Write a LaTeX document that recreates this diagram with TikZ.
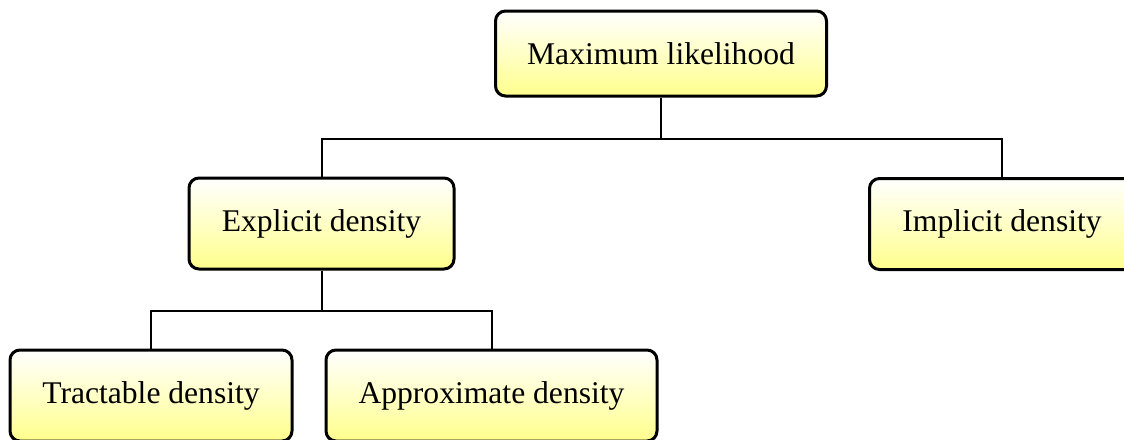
\documentclass[tikz,border=0pt]{standalone}
\usepackage{fontspec}
\setmainfont{Liberation Serif}
\begin{document}
\begin{tikzpicture}[x=1pt,y=-1pt,
  box/.style={draw=black, line width=3pt, rounded corners=10pt,
    top color=white, bottom color={rgb,255:red,255;green,255;blue,140},
    shading angle=0, inner sep=0pt, font=\fontsize{31.6}{38}\selectfont},
  conn/.style={draw=black, line width=2pt}]
\useasboundingbox (0,0) rectangle (1124,439);
\clip (0,0) rectangle (1124,439);
\fill[white] (0,0) rectangle (1124,439);
\node[box, minimum width=331pt, minimum height=85pt] (max) at (661,53.5) {Maximum likelihood};
\node[box, minimum width=265pt, minimum height=91pt] (exp) at (321.5,223.5) {Explicit density};
\node[box, minimum width=265pt, minimum height=91pt] (imp) at (1002,224) {Implicit density};
\node[box, minimum width=282pt, minimum height=91pt] (tra) at (151,395.5) {Tractable density};
\node[box, minimum width=331pt, minimum height=91pt] (app) at (491.5,395.5) {Approximate density};
\coordinate (j1) at (661,138.5);
\coordinate (j2) at (321.5,310.5);
\draw[conn] (max.south) -- (j1) -| (exp.north);
\draw[conn] (j1) -| (imp.north);
\draw[conn] (exp.south) -- (j2) -| (tra.north);
\draw[conn] (j2) -| (app.north);
\end{tikzpicture}
\end{document}
